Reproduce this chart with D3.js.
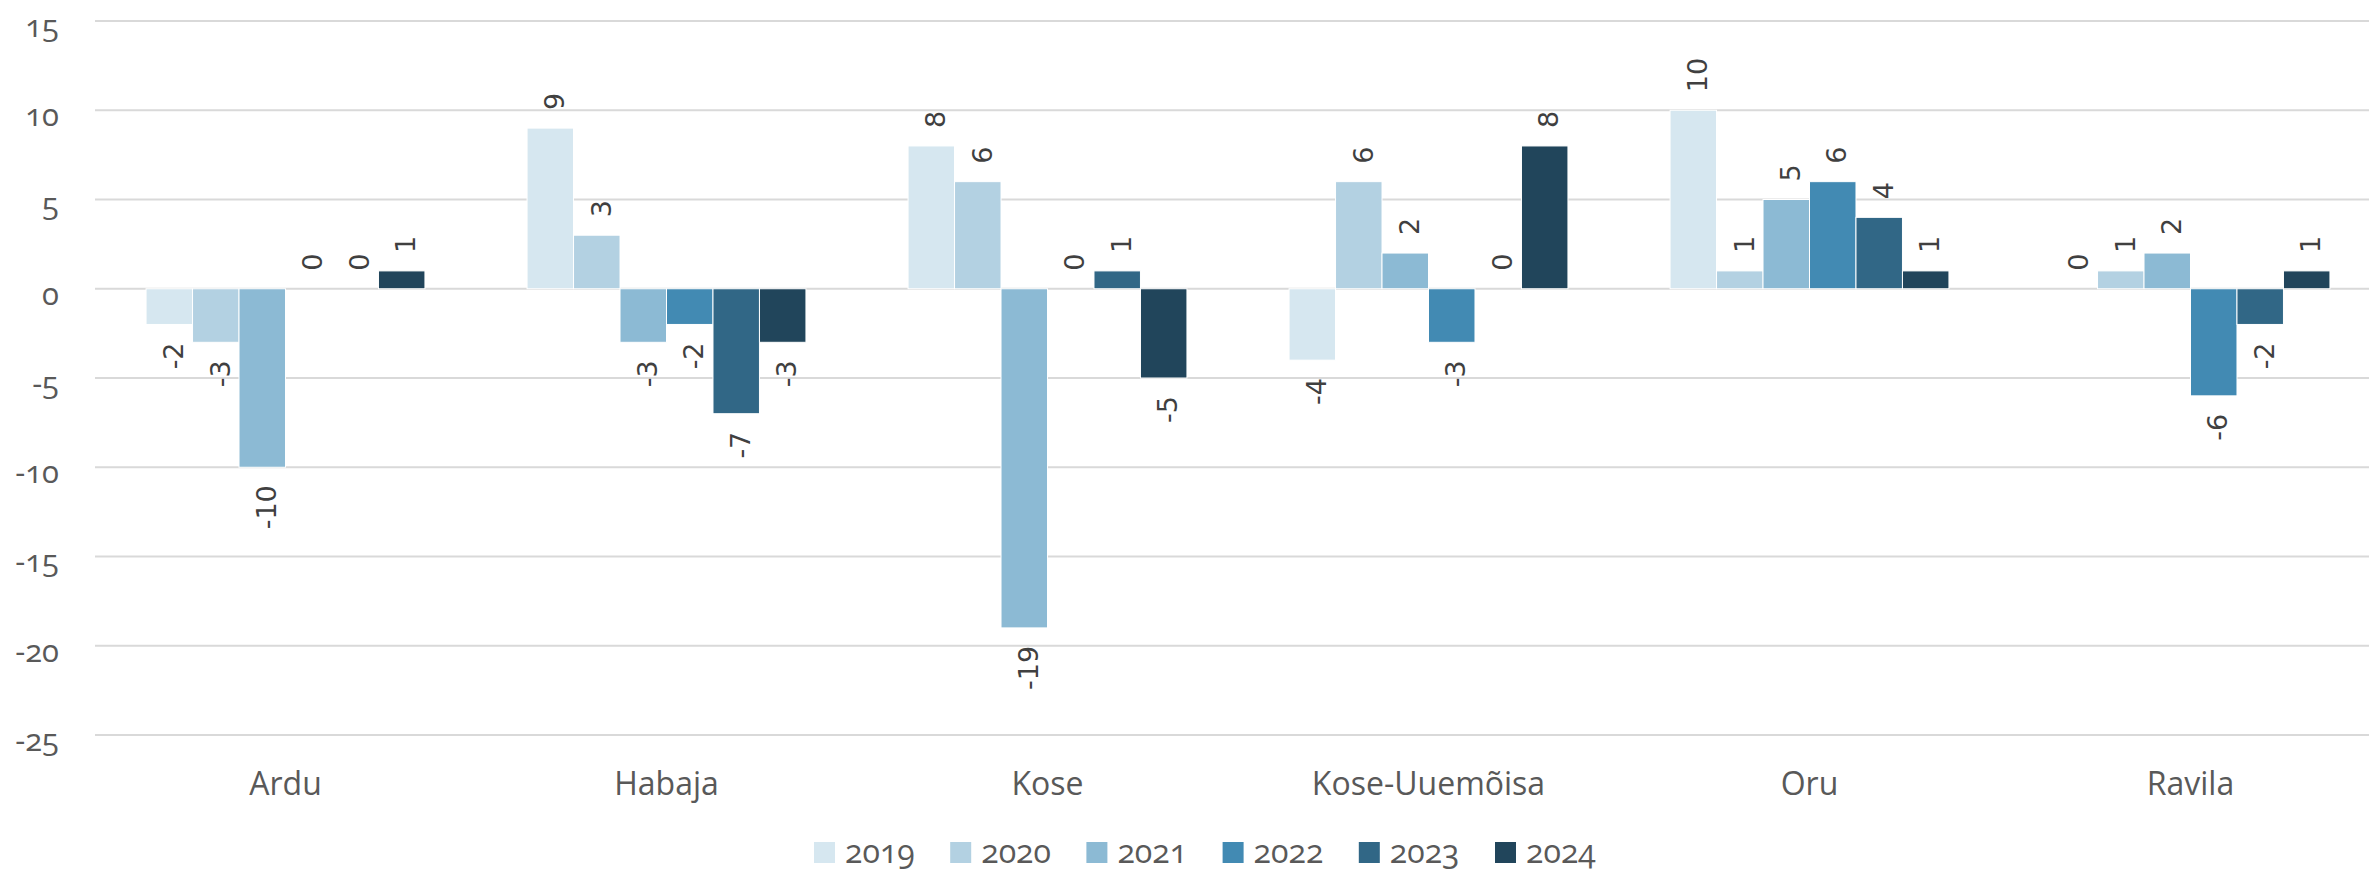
<!DOCTYPE html>
<html>
<head>
<meta charset="utf-8">
<script src="https://cdn.jsdelivr.net/npm/d3@7"></script>
<style>
  body { margin: 0; background: #fff; }
  .tick-label, .cat-label, .legend-label { font-family: "Open Sans", sans-serif; font-variant-numeric: oldstyle-nums; fill: #595959; }
  .bar-label { font-family: "DejaVu Sans", sans-serif; fill: #404040; }
</style>
</head>
<body>
<script>
// categories and series
var categories = ['Ardu', 'Habaja', 'Kose', 'Kose-Uuemõisa', 'Oru', 'Ravila'];
var years = ['2019', '2020', '2021', '2022', '2023', '2024'];

// values per year, in category order
var v2019 = [-2, 9, 8, -4, 10, 0];
var v2020 = [-3, 3, 6, 6, 1, 1];
var v2021 = [-10, -3, -19, 2, 5, 2];
var v2022 = [0, -2, 0, -3, 6, -6];
var v2023 = [0, -7, 1, 0, 4, -2];
var v2024 = [1, -3, -5, 8, 1, 1];

var yTicks = [15, 10, 5, 0, -5, -10, -15, -20, -25];
var colors = ['#d6e7f0', '#b3d1e2', '#8cbad4', '#428ab3', '#316786', '#21455b'];

var seriesValues = [v2019, v2020, v2021, v2022, v2023, v2024];

var width = 2369;
var height = 872;

var svg = d3.select('body')
  .append('svg')
  .attr('width', width)
  .attr('height', height);

// y scale: -25 at the bottom gridline, 15 at the top one
var y = d3.scaleLinear()
  .domain([-25, 15])
  .range([735, 21]);

// outer band per category, inner band per year
var x0 = d3.scaleBand()
  .domain(categories)
  .range([95, 2381])
  .paddingInner(0.268)
  .paddingOuter(0.134);

var x1 = d3.scaleBand()
  .domain(years)
  .range([0, x0.bandwidth()]);

var color = d3.scaleOrdinal().domain(years).range(colors);

// gridlines
svg.append('g')
  .selectAll('line')
  .data(yTicks)
  .enter()
  .append('line')
    .attr('x1', 95)
    .attr('x2', width)
    .attr('y1', function (d) { return y(d); })
    .attr('y2', function (d) { return y(d); })
    .attr('stroke', '#d9d9d9')
    .attr('stroke-width', 2);

// y tick labels
svg.append('g')
  .selectAll('text')
  .data(yTicks)
  .enter()
  .append('text')
    .attr('class', 'tick-label')
    .attr('x', 59)
    .attr('y', function (d) { return y(d) + 5; })
    .attr('dy', '0.35em')
    .attr('text-anchor', 'end')
    .style('font-size', '31px')
    .text(function (d) { return d; });

// flatten to one record per bar
var bars = [];
categories.forEach(function (c, i) {
  years.forEach(function (yr, j) {
    bars.push({cat: c, year: yr, value: seriesValues[j][i]});
  });
});

var groups = svg.append('g');

groups.selectAll('rect')
  .data(bars)
  .enter()
  .append('rect')
    .attr('x', function (d) { return x0(d.cat) + x1(d.year); })
    .attr('width', x1.bandwidth())
    .attr('y', function (d) { return y(Math.max(0, d.value)); })
    .attr('height', function (d) { return Math.abs(y(d.value) - y(0)); })
    .attr('fill', function (d) { return color(d.year); })
    .attr('stroke', '#fff')
    .attr('stroke-width', 1);

// data labels, rotated, just outside the bar end
groups.selectAll('.bar-label')
  .data(bars)
  .enter()
  .append('text')
    .attr('class', 'bar-label')
    .attr('transform', function (d) {
      var cx = x0(d.cat) + x1(d.year) + x1.bandwidth() / 2 + 4;
      var cy = d.value >= 0 ? y(d.value) - 18 : y(d.value) + 18;
      return 'translate(' + cx + ',' + cy + ')rotate(-90)';
    })
    .attr('dy', '0.36em')
    .attr('text-anchor', function (d) { return d.value >= 0 ? 'start' : 'end'; })
    .style('font-size', '27px')
    .text(function (d) { return d.value; });

// category labels
svg.append('g')
  .selectAll('text')
  .data(categories)
  .enter()
  .append('text')
    .attr('class', 'cat-label')
    .attr('x', function (d) { return x0(d) + x0.bandwidth() / 2; })
    .attr('y', 795)
    .attr('text-anchor', 'middle')
    .style('font-size', '32px')
    .text(function (d) { return d; });

// legend
var legend = svg.append('g')
  .selectAll('g')
  .data(years)
  .enter()
  .append('g')
    .attr('transform', function (d, i) { return 'translate(' + (814 + i * 136.2) + ',842)'; });

legend.append('rect')
  .attr('width', 21)
  .attr('height', 21)
  .attr('fill', function (d) { return color(d); });

legend.append('text')
  .attr('class', 'legend-label')
  .attr('x', 31)
  .attr('y', 21)
  .style('font-size', '32px')
  .text(function (d) { return d; });
</script>
</body>
</html>
